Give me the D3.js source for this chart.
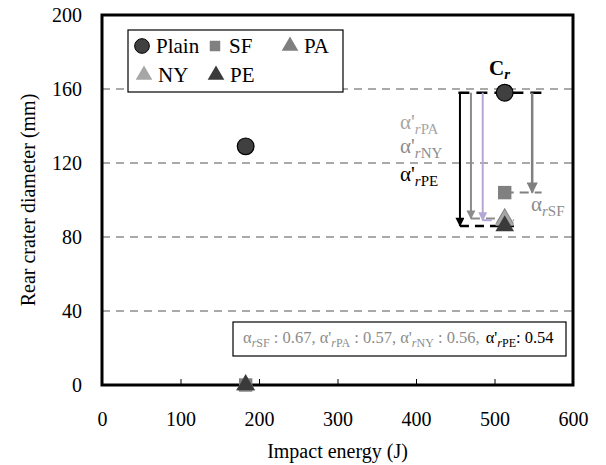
<!DOCTYPE html>
<html><head><meta charset="utf-8">
<script src="https://cdn.jsdelivr.net/npm/d3@7"></script>
<style>body{margin:0;background:#fff}svg{display:block}</style>
</head><body>
<script>
// ---- data ----
const series = ["Plain", "SF", "PA", "NY", "PE"];
const energies = [183, 513];
const plainVals = [129, 158];
const sfVals = [0, 104];
const paVals = [0, 90];
const nyVals = [0, 89];
const peVals = [0, 86];
const xTicks = [0, 100, 200, 300, 400, 500, 600];
const yTicks = [0, 40, 80, 120, 160, 200];
const ratioLabels = ["SF", "PA", "NY", "PE"];
const ratioValues = [0.67, 0.57, 0.56, 0.54];
// arrow annotations: x (J), from Cr value to target value
const arrowX = [548, 470, 485, 456];

const FONT = "'Times New Roman', 'Liberation Serif', Tinos, 'DejaVu Serif', serif";
const colors = {Plain:"#404040", SF:"#808080", PA:"#7f7f7f", NY:"#a6a6a6", PE:"#3a3a3a"};
const shapes = {Plain:d3.symbolCircle, SF:d3.symbolSquare, PA:d3.symbolTriangle, NY:d3.symbolTriangle, PE:d3.symbolTriangle};
const sizes = {Plain:220, SF:180, PA:150, NY:150, PE:150};
const vals = {Plain:plainVals, SF:sfVals, PA:paVals, NY:nyVals, PE:peVals};

const W=606,H=465, m={l:102,t:15,r:33,b:80};
const svg=d3.select("body").append("svg").attr("width",W).attr("height",H).style("font-family",FONT);
const x=d3.scaleLinear().domain([0,600]).range([m.l,W-m.r]);
const y=d3.scaleLinear().domain([0,200]).range([H-m.b,m.t]);

// gridlines
svg.append("g").selectAll("line").data(yTicks.filter(v=>v>0&&v<200)).join("line")
  .attr("x1",x(0)).attr("x2",x(600)).attr("y1",d=>y(d)).attr("y2",d=>y(d))
  .attr("stroke","#555").attr("stroke-width",1).attr("stroke-dasharray","8,6");

// axes
const xa=svg.append("g").attr("transform",`translate(0,${y(0)})`)
  .call(d3.axisBottom(x).tickValues(xTicks).tickSizeInner(-6).tickSizeOuter(0).tickPadding(27));
xa.attr("font-family",null).style("font-family",FONT);
xa.select(".domain").remove();
xa.selectAll("line").attr("stroke","#000");
xa.selectAll("text").attr("font-size",20).attr("fill","#000").style("font-family",FONT);
const ya=svg.append("g").attr("transform",`translate(${x(0)},0)`)
  .call(d3.axisLeft(y).tickValues(yTicks).tickSizeInner(0).tickSizeOuter(0).tickPadding(20));
ya.attr("font-family",null).style("font-family",FONT);
ya.select(".domain").remove();
ya.selectAll("text").attr("font-size",20).attr("fill","#000").style("font-family",FONT);

// frame
svg.append("rect").attr("x",x(0)).attr("y",y(200)).attr("width",x(600)-x(0)).attr("height",y(0)-y(200))
  .attr("fill","none").attr("stroke","#000").attr("stroke-width",3);

// axis titles
svg.append("text").attr("x",(x(0)+x(600))/2).attr("y",458).attr("text-anchor","middle").attr("font-size",20).text("Impact energy (J)");
svg.append("text").attr("transform",`translate(35,${(y(0)+y(200))/2}) rotate(-90)`).attr("text-anchor","middle").attr("font-size",20).text("Rear crater diameter (mm)");

// annotations: Cr line
const cr=plainVals[1];
svg.append("line").attr("x1",x(454)).attr("x2",x(560)).attr("y1",y(cr)).attr("y2",y(cr))
  .attr("stroke","#000").attr("stroke-width",2.5).attr("stroke-dasharray","11,7");

const defs=svg.append("defs");
function marker(id,c){defs.append("marker").attr("id",id).attr("viewBox","0 0 10 10").attr("refX",9).attr("refY",5)
  .attr("markerWidth",5).attr("markerHeight",4.5).attr("orient","auto").attr("markerUnits","strokeWidth")
  .append("path").attr("d","M0,0L10,5L0,10z").attr("fill",c);}
const arrowCol={SF:"#808080",PA:"#8c8c8c",NY:"#b4a7d6",PE:"#000"};
const arrowW={SF:2.5,PA:2,NY:2,PE:2};
ratioLabels.forEach(s=>marker("ah"+s,arrowCol[s]));
const targets={SF:sfVals[1],PA:paVals[1],NY:nyVals[1],PE:peVals[1]};
const dashEnd={SF:560,PA:515,NY:525,PE:525};
ratioLabels.forEach((s,i)=>{
  const ax=arrowX[i], t=targets[s];
  svg.append("line").attr("x1",x(Math.min(ax,energies[1]))).attr("x2",x(dashEnd[s])).attr("y1",y(t)).attr("y2",y(t))
    .attr("stroke",arrowCol[s]).attr("stroke-width",s==="PE"?2.5:2).attr("stroke-dasharray","9,6");
  svg.append("line").attr("x1",x(ax)).attr("x2",x(ax)).attr("y1",y(cr)).attr("y2",y(t))
    .attr("stroke",arrowCol[s]).attr("stroke-width",arrowW[s]).attr("marker-end",`url(#ah${s})`);
});

// points
series.forEach(s=>{
  svg.append("g").selectAll("path").data(energies.map((e,i)=>({e,v:vals[s][i]}))).join("path")
    .attr("transform",d=>`translate(${x(d.e)},${y(d.v)})`)
    .attr("d",d3.symbol().type(shapes[s]).size(sizes[s]))
    .attr("fill",colors[s]).attr("stroke",s==="Plain"?"#000":"none").attr("stroke-width",1.2);
});

// labels
function alphaLabel(gx,gy,sub,col,prime){
  const t=svg.append("text").attr("x",gx).attr("y",gy).attr("font-size",21).attr("fill",col);
  t.append("tspan").text(prime?"α'":"α");
  t.append("tspan").attr("dy",5).attr("font-size",15).attr("font-style","italic").text("r");
  t.append("tspan").attr("font-size",15).text(sub);
  return t;
}
alphaLabel(400,129,"PA","#a6a6a6",true);
alphaLabel(400,153,"NY","#8c8c8c",true);
alphaLabel(400,181,"PE","#000",true);
alphaLabel(531,211,"SF","#8c8c8c",false);
const crT=svg.append("text").attr("x",489).attr("y",75).attr("font-size",21).attr("font-weight","bold");
crT.append("tspan").text("C");
crT.append("tspan").attr("dy",4).attr("font-size",15).attr("font-style","italic").text("r");

// legend
const lg=svg.append("g");
lg.append("rect").attr("x",128).attr("y",30).attr("width",215).attr("height",62).attr("fill","#fff").attr("stroke","#000").attr("stroke-width",1.2);
const legPos=[[142,46],[215,46],[290,46],[144,75],[216,75]];
const legSize={Plain:170,SF:110,PA:120,NY:120,PE:120};
series.forEach((s,i)=>{
  const [lx,ly]=legPos[i];
  lg.append("path").attr("transform",`translate(${lx},${ly})`).attr("d",d3.symbol().type(shapes[s]).size(legSize[s]))
    .attr("fill",colors[s]).attr("stroke",s==="Plain"?"#000":"none");
  lg.append("text").attr("x",lx+14).attr("y",ly+7).attr("font-size",21).text(s);
});

// ratio box
svg.append("rect").attr("x",233).attr("y",322).attr("width",333).attr("height",34).attr("fill","#fff").attr("stroke","#000").attr("stroke-width",1.2);
const rt=svg.append("text").attr("x",243).attr("y",343).attr("font-size",16.5);
ratioLabels.forEach((s,i)=>{
  const col=s==="PE"?"#000":"#8c8c8c";
  rt.append("tspan").attr("fill",col).attr("dx",i===3?6:0).text(s==="SF"?"α":"α'");
  rt.append("tspan").attr("fill",col).attr("dy",4).attr("font-size",12).attr("font-style","italic").text("r");
  rt.append("tspan").attr("fill",col).attr("font-size",12).text(s);
  rt.append("tspan").attr("fill",col).attr("dy",-4).text((s==="PE"?": ":" : ")+ratioValues[i].toFixed(2)+(i<3?",":""));
  if(i<2) rt.append("tspan").text(" ");
});
</script>
</body></html>
